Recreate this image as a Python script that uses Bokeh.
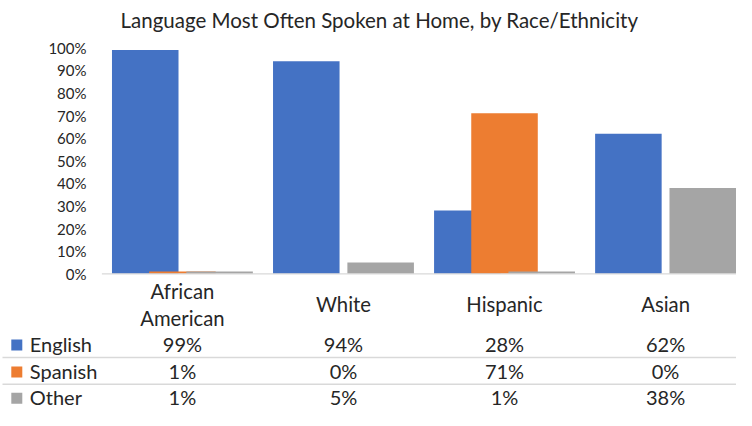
from bokeh.plotting import figure
from bokeh.models import ColumnDataSource, Range1d
from bokeh.transform import dodge
from bokeh.core.properties import value
from bokeh.embed import file_html
from bokeh.resources import INLINE

# ---- data ----
categories = ["African American", "White", "Hispanic", "Asian"]
category_labels = ["African\nAmerican", "White", "Hispanic", "Asian"]
series = ["English", "Spanish", "Other"]
english = [99, 94, 28, 62]
spanish = [1, 0, 71, 0]
other = [1, 5, 1, 38]
y_ticks = [0, 10, 20, 30, 40, 50, 60, 70, 80, 90, 100]
y_tick_labels = ["0%", "10%", "20%", "30%", "40%", "50%", "60%", "70%", "80%", "90%", "100%"]
title_text = "Language Most Often Spoken at Home, by Race/Ethnicity"

colors = ["#4472C4", "#ED7D31", "#A5A5A5"]
TEXT = "#262626"
FONT = "Lato"
W, H = 736, 410

# ---- layout helpers (figure pixel -> data units); positions only ----
X0 = 101.4                      # left edge of the category area
UNIT = 164.6 * (W - X0) / (750.0 - X0)   # pixels per category
Y_ZERO = 273.3                  # pixel row of 0 %
PX_PER_PCT = 2.26

def dx(px):
    return (px - X0) / UNIT
def dy(py):
    return (Y_ZERO - py) / PX_PER_PCT

p = figure(width=W, height=H, output_backend="svg", toolbar_location=None,
           x_axis_type=None, y_axis_type=None, min_border=0,
           x_range=Range1d(dx(0), dx(W)),
           y_range=Range1d(dy(H), dy(0)))
p.outline_line_color = None
p.background_fill_color = "white"
p.border_fill_color = "white"

cat_x = [i + 0.5 for i in range(len(categories))]
src = ColumnDataSource(dict(x=cat_x, English=english, Spanish=spanish, Other=other))

bar_w = 68 / 164.6
off = 38 / 164.6
offsets = [-off, 0.0, off]
for s, c, o in zip(series, colors, offsets):
    p.vbar(x=dodge("x", o, range=p.x_range), top=s, bottom=0, width=bar_w,
           source=src, fill_color=c, line_color=None)

# category axis baseline
p.segment(x0=[0], x1=[dx(W + 10)], y0=[0], y1=[0], line_color="#D9D9D9", line_width=1.2)

# y tick labels
p.text(x=[dx(86)] * len(y_ticks), y=y_ticks, text=y_tick_labels,
       text_align="right", text_baseline="middle", text_font=value(FONT),
       text_font_size="15px", text_color=TEXT)

# category labels
lx, ly, lt = [], [], []
for cx, lab in zip(cat_x, category_labels):
    lines = lab.split("\n")
    n = len(lines)
    for k, ln in enumerate(lines):
        center = 303.8 + (k - (n - 1) / 2) * 26.5
        lx.append(cx); ly.append(dy(center)); lt.append(ln)
p.text(x=lx, y=ly, text=lt, text_align="center", text_baseline="middle",
       text_font=value(FONT), text_font_size="20.3px", text_color=TEXT)

# title
p.text(x=[dx(379)], y=[dy(19.5)], text=[title_text], text_align="center",
       text_baseline="middle", text_font=value(FONT), text_font_size="20.5px",
       text_color=TEXT)

# data table
row_center = [343.5, 370.5, 396.8]
row_vals = [english, spanish, other]
sep_lines = [357.0, 383.8]
for yl in sep_lines:
    p.segment(x0=[dx(2)], x1=[dx(W + 10)], y0=[dy(yl)], y1=[dy(yl)],
              line_color="#D9D9D9", line_width=1.5)
for s, c, rc, vals in zip(series, colors, row_center, row_vals):
    p.rect(x=[dx(16.3)], y=[dy(rc + 1)], width=11, height=11,
           width_units="screen", height_units="screen", fill_color=c, line_color=None)
    p.text(x=[dx(29.3)], y=[dy(rc)], text=[s], text_align="left",
           text_baseline="middle", text_font=value(FONT), text_font_size="20px",
           text_color=TEXT)
    p.text(x=cat_x, y=[dy(rc)] * len(cat_x), text=[f"{v}%" for v in vals],
           text_align="center", text_baseline="middle", text_font=value(FONT),
           text_font_size="20px", text_color=TEXT)

open("out.html", "w").write(file_html(p, INLINE))
